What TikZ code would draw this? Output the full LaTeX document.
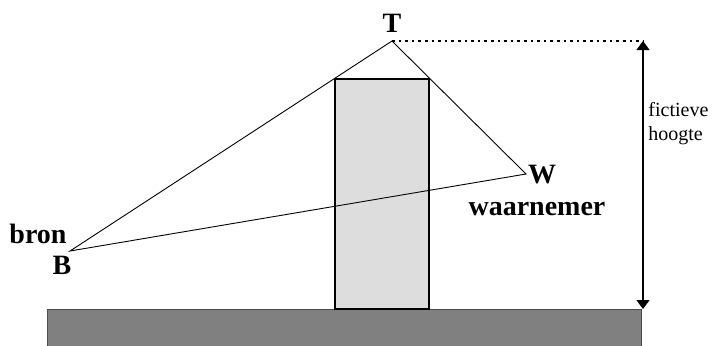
\documentclass[tikz,border=0pt]{standalone}
\usepackage{fontspec}
\setmainfont{Liberation Serif}
\usetikzlibrary{arrows.meta,positioning}
\definecolor{grond}{RGB}{128,128,128}
\definecolor{gebouw}{RGB}{221,221,221}
\begin{document}
\begin{tikzpicture}[x=0.5pt,y=-0.5pt,
	straal/.style={line width=0.45pt},
	lbl/.style={font=\fontsize{14}{16}\selectfont\bfseries,inner sep=0pt}]
					\useasboundingbox (0,0) rectangle (712,345);
					% grond en gebouw
					\fill[grond,draw=black!70,line width=0.3pt] (47,309) rectangle (641,347);
					\draw[fill=gebouw,line width=0.9pt] (335,79) rectangle (429,309);
					% bron, top, waarnemer
					\coordinate (B) at (70,251);
					\coordinate (T) at (392,41);
					\coordinate (W) at (526,174);
					\coordinate (hboven) at (643,41);
					\coordinate (honder) at (643,309);
					\draw[straal] (B) -- (T) -- (W) -- cycle;
					\draw[line width=0.7pt,dash pattern=on 1.3pt off 2pt] (T) -- (hboven);
					\draw[line width=0.65pt,{Triangle[length=4.5pt,width=6.5pt]}-{Triangle[length=4.5pt,width=6.5pt]}] (hboven) -- (honder);
					% labels
					\node[lbl] (Tlbl) at (392,23) {T};
					\node[lbl] (Wlbl) at (542,175) {W};
					\node[lbl] (waarnemer) at (537,209) {waarnemer};
					\node[lbl] (bron) at (38,234) {bron};
					\node[lbl] (Blbl) at (62,265) {B};
					\node[anchor=west,align=left,inner sep=0pt,font=\fontsize{10}{12}\selectfont] (hoogte) at (648,124) {fictieve\\hoogte};
				\end{tikzpicture}
\end{document}
